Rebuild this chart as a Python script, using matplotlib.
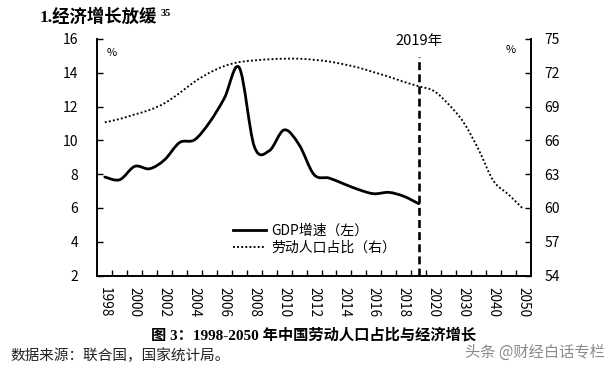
import numpy as np
import matplotlib
matplotlib.use('Agg')
import matplotlib.pyplot as plt
import matplotlib.transforms as mtransforms
from matplotlib.path import Path
from matplotlib.patches import PathPatch
from matplotlib.lines import Line2D

plt.rcParams['font.family'] = ['Noto Sans CJK SC', 'DejaVu Sans']
plt.rcParams['axes.unicode_minus'] = False

# ---------------- data ----------------
categories = ['1998', '1999', '2000', '2001', '2002', '2003', '2004', '2005',
              '2006', '2007', '2008', '2009', '2010', '2011', '2012', '2013',
              '2014', '2015', '2016', '2017', '2018', '2019', '2020',
              '2025', '2030', '2035', '2040', '2045', '2050']
tick_labels = ['1998', '2000', '2002', '2004', '2006', '2008', '2010', '2012',
               '2014', '2016', '2018', '2020', '2030', '2040', '2050']
gdp_growth = [7.83, 7.67, 8.46, 8.32, 8.85, 9.87, 10.03, 11.06, 12.5, 14.3,
              9.64, 9.38, 10.62, 9.74, 7.97, 7.77, 7.42, 7.08, 6.84, 6.92,
              6.69, 6.25]  # 1998-2019
labor_share = [67.6, 67.9, 68.3, 68.7, 69.3, 70.2, 71.2, 72.0, 72.6, 72.95,
               73.1, 73.2, 73.25, 73.25, 73.15, 73.0, 72.75, 72.45, 72.05,
               71.65, 71.2, 70.8, 70.4, 69.2, 67.6, 65.2, 62.4, 61.2, 59.9]
left_ticks = [2, 4, 6, 8, 10, 12, 14, 16]
right_ticks = [54, 57, 60, 63, 66, 69, 72, 75]
marker_year = '2019'
legend_labels = ['GDP增速（左）', '劳动人口占比（右）']


def smooth_path(xs, ys):
    pts = np.column_stack([xs, ys]).astype(float)
    n = len(pts)
    verts = [pts[0]]
    codes = [Path.MOVETO]
    for i in range(n - 1):
        p0 = pts[i - 1] if i > 0 else pts[i]
        p1 = pts[i]
        p2 = pts[i + 1]
        p3 = pts[i + 2] if i + 2 < n else pts[i + 1]
        c1 = p1 + (p2 - p0) / 6.0
        c2 = p2 - (p3 - p1) / 6.0
        verts += [c1, c2, p2]
        codes += [Path.CURVE4] * 3
    return Path(verts, codes)


fig = plt.figure(figsize=(6.16, 3.70), dpi=100)
ax = fig.add_axes([0.158, 0.2554, 0.7037, 0.6392])
ax2 = ax.twinx()

x_all = np.arange(len(categories))
pos = {c: i for i, c in enumerate(categories)}
x_gdp = x_all[:len(gdp_growth)]

ax.set_xlim(-0.5, len(categories) - 0.5)
ax.set_ylim(left_ticks[0], left_ticks[-1])
ax2.set_ylim(right_ticks[0], right_ticks[-1])

dot_style = (0, (1, 1.2))
ax.add_patch(PathPatch(smooth_path(x_gdp, gdp_growth), fill=False,
                       edgecolor='black', lw=2.0, capstyle='round',
                       joinstyle='round'))
ax2.add_patch(PathPatch(smooth_path(x_all, labor_share), fill=False,
                        edgecolor='black', lw=1.35, linestyle=dot_style))

xm = pos[marker_year]
ax.axvline(xm, ymin=0, ymax=0.924, color='black', lw=1.9,
           linestyle=(0, (3, 1.6)))
trans = mtransforms.blended_transform_factory(ax.transData, ax.transAxes)
ax.text(xm, 0.99, marker_year + '年', transform=trans, ha='center',
        va='center', fontsize=10.5)

# ticks
ax.set_xticks([pos[t] for t in tick_labels])
ax.set_xticklabels(tick_labels, rotation=-90, fontsize=9.8)
ax.set_xticks(np.arange(0.5, len(categories) - 1, 1.0), minor=True)
ax.tick_params(axis='x', which='major', length=0, pad=8.5)
ax.tick_params(axis='x', which='minor', direction='in', length=4, width=1)
ax.set_yticks(left_ticks)
ax.tick_params(axis='y', direction='in', length=4, width=1, labelsize=10,
               pad=14)
ax2.set_yticks(right_ticks)
ax2.tick_params(axis='y', direction='in', length=4, width=1, labelsize=10,
                pad=10)

for a in (ax, ax2):
    a.spines['top'].set_visible(False)
    for s in ('left', 'right', 'bottom'):
        a.spines[s].set_linewidth(1.2)

ax.text(0.034, 0.94, '%', transform=ax.transAxes, ha='center', va='center',
        fontsize=8)
ax.text(0.954, 0.953, '%', transform=ax.transAxes, ha='center', va='center',
        fontsize=8)

handles = [Line2D([], [], color='black', lw=2.0),
           Line2D([], [], color='black', lw=1.35, linestyle=dot_style)]
ax.legend(handles, legend_labels, loc='upper left',
          bbox_to_anchor=(0.313, 0.218), frameon=False, handlelength=2.4,
          handletextpad=0.35, borderpad=0, borderaxespad=0,
          labelspacing=0.22, fontsize=10)

# titles and notes
serif_cjk = ['Liberation Serif', 'Noto Sans CJK SC']
fig.text(40 / 616, 1 - 17 / 370, '1.经济增长放缓', ha='left', va='center',
         fontsize=12.5, fontweight='bold', family=serif_cjk)
fig.text(161 / 616, 1 - 9 / 370, '35', ha='left', va='top', fontsize=7.5,
         fontweight='bold', family=serif_cjk)

fig.text(314 / 616, 1 - 335 / 370, '图 3：1998-2050 年中国劳动人口占比与经济增长',
         ha='center', va='center', fontsize=11, fontweight='bold',
         family=serif_cjk)
fig.text(10 / 616, 1 - 356 / 370, '数据来源：联合国，国家统计局。', ha='left',
         va='center', fontsize=10.5, color='#222222')
fig.text(605 / 616, 1 - 352 / 370, '头条 @财经白话专栏', ha='right',
         va='center', fontsize=11, color='#8a8a8a')

fig.savefig('out.png', dpi=100)
